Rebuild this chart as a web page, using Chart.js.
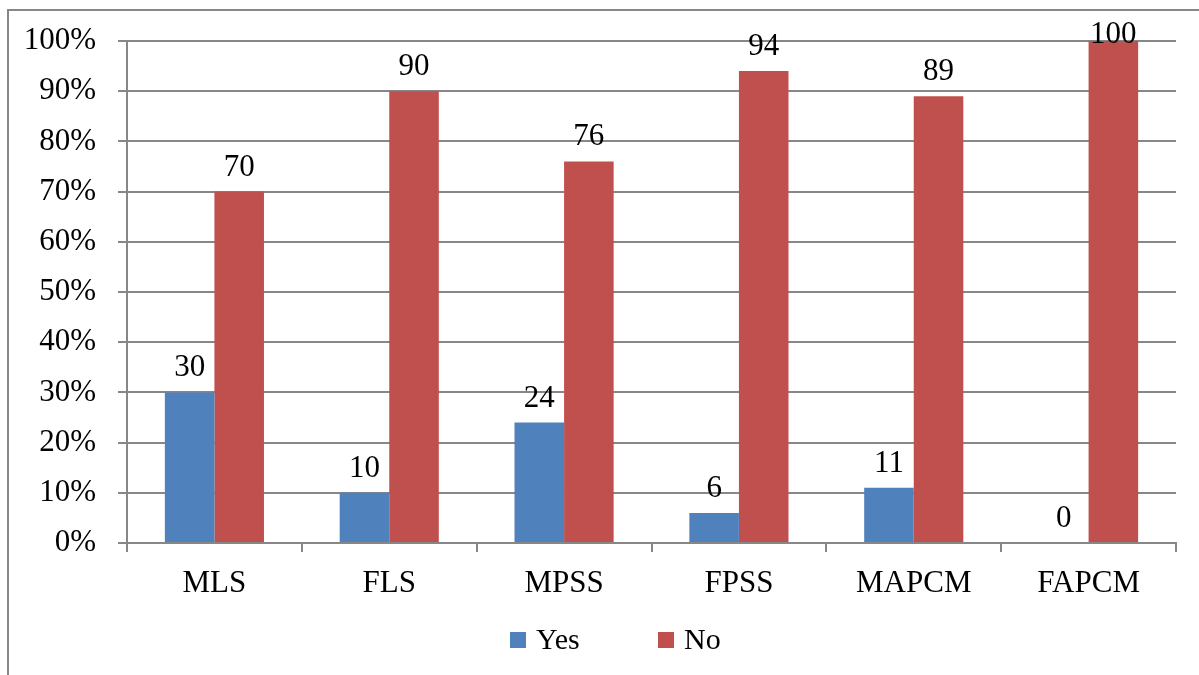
<!DOCTYPE html>
<html>
<head>
<meta charset="utf-8">
<script src="https://cdn.jsdelivr.net/npm/chart.js@4"></script>
<style>
  html, body { margin: 0; padding: 0; background: #fff; overflow: hidden; }
  #wrap { position: relative; width: 1199px; height: 675px; }
  #frame { position: absolute; left: 7px; top: 9px; width: 1400px; height: 900px; border: 2px solid #878787; }
  #chart { position: absolute; left: 0; top: 0; }
</style>
</head>
<body>
<div id="wrap">
  <div id="frame"></div>
  <canvas id="chart" width="1199" height="675"></canvas>
</div>
<script>
// Chart data
const categories = ["MLS", "FLS", "MPSS", "FPSS", "MAPCM", "FAPCM"];
const yesValues = [30, 10, 24, 6, 11, 0];
const noValues = [70, 90, 76, 94, 89, 100];
const yTicks = [0, 10, 20, 30, 40, 50, 60, 70, 80, 90, 100];

const serif = "'Liberation Serif', 'Times New Roman', serif";
const gridColor = "#878787";

// value labels above each bar
const barLabels = {
  id: 'barLabels',
  afterDatasetsDraw(chart) {
    const ctx = chart.ctx;
    ctx.save();
    ctx.font = "31px " + serif;
    ctx.fillStyle = "#000";
    ctx.textAlign = "center";
    ctx.textBaseline = "alphabetic";
    chart.data.datasets.forEach((ds, i) => {
      chart.getDatasetMeta(i).data.forEach((bar, j) => {
        let y = Math.max(bar.y - 16, 43);
        ctx.fillText(String(ds.data[j]), bar.x, y);
      });
    });
    ctx.restore();
  }
};

// legend under the axis, Excel style spacing
const bottomLegend = {
  id: 'bottomLegend',
  afterDraw(chart) {
    const ctx = chart.ctx;
    const itemX = [510, 658];
    const y = 640;
    ctx.save();
    ctx.font = "30px " + serif;
    ctx.textBaseline = "middle";
    ctx.textAlign = "left";
    chart.data.datasets.forEach((ds, i) => {
      ctx.fillStyle = ds.backgroundColor;
      ctx.fillRect(itemX[i], y - 8, 16, 16);
      ctx.fillStyle = "#000";
      ctx.fillText(ds.label, itemX[i] + 26, y + 1);
    });
    ctx.restore();
  }
};

new Chart(document.querySelector("#chart"), {
  type: 'bar',
  data: {
    labels: categories,
    datasets: [
      { label: "Yes", data: yesValues, backgroundColor: "#4F81BD" },
      { label: "No", data: noValues, backgroundColor: "#C0504D" }
    ]
  },
  options: {
    responsive: false,
    animation: false,
    layout: { padding: { left: 0, right: 23, top: 41, bottom: 62 } },
    datasets: { bar: { categoryPercentage: 0.567, barPercentage: 1.0 } },
    plugins: {
      tooltip: { enabled: false },
      legend: { display: false }
    },
    scales: {
      x: {
        afterFit(scale) { scale.height = 70; },
        grid: { offset: true, drawOnChartArea: false, drawTicks: true, tickLength: 9, color: gridColor, lineWidth: 2 },
        border: { color: gridColor, width: 2 },
        ticks: { color: "#000", padding: 13, font: { family: serif, size: 31 } }
      },
      y: {
        min: yTicks[0],
        max: yTicks[yTicks.length - 1],
        afterFit(scale) { scale.width = 127; },
        grid: { color: gridColor, lineWidth: 2, tickLength: 9 },
        border: { color: gridColor, width: 2 },
        ticks: {
          stepSize: yTicks[1] - yTicks[0],
          color: "#000",
          padding: 22,
          font: { family: serif, size: 31 },
          callback: v => v + "%"
        }
      }
    }
  },
  plugins: [barLabels, bottomLegend]
});
</script>
</body>
</html>
